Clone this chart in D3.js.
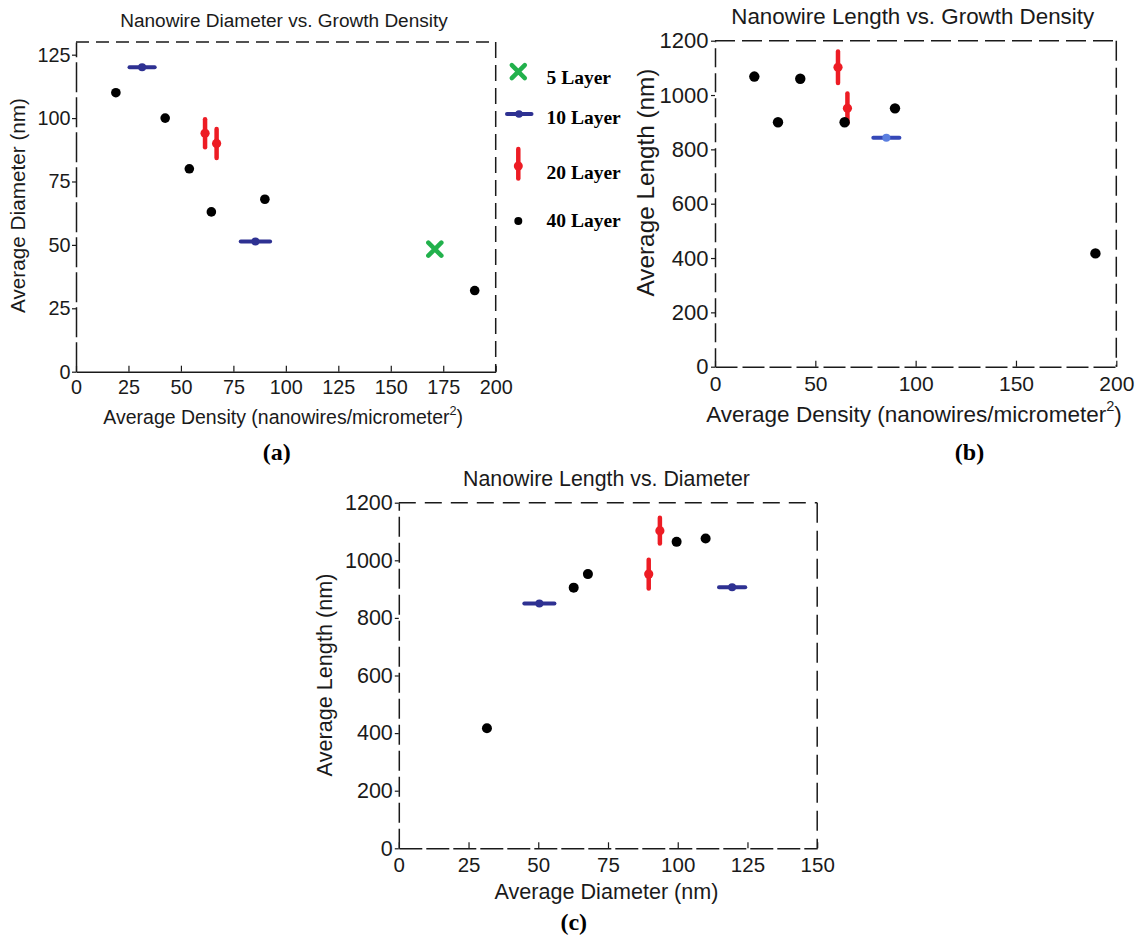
<!DOCTYPE html>
<html><head><meta charset="utf-8">
<script src="https://cdn.jsdelivr.net/npm/d3@7"></script>
<style>body{margin:0;background:#fff} svg{display:block}</style>
</head><body>
<svg id="chart" width="1144" height="937"></svg>
<script>
// ---------- DATA ----------
// Panel (a): Diameter vs Density
const densA_40 = [19, 42.5, 54, 64.5, 90, 190];
const diamA_40 = [110, 100, 80, 63, 68, 32];
const densA_20 = [61.5, 67];
const diamA_20 = [94, 90];
const errA_20  = [5.5, 5.7];
const densA_10 = [31.5, 85.5];
const diamA_10 = [120, 51.3];
const errA_10  = [6, 7];
const densA_5  = [171];
const diamA_5  = [48.3];

// Panel (b): Length vs Density
const densB_40 = [19.6, 31.4, 42.5, 64.6, 89.7, 189.6];
const lenB_40  = [1068, 900, 1060, 900, 951, 417];
const densB_20 = [61.3, 66];
const lenB_20  = [1102, 951];
const errB_20  = [58, 55];
const densB_10 = [85.4];
const lenB_10  = [843];
const errB_10  = [6.5];

// Panel (c): Length vs Diameter
const diamC_40 = [31.6, 62.7, 67.8, 99.6, 110];
const lenC_40  = [417, 905, 952, 1064, 1076];
const diamC_20 = [89.6, 93.6];
const lenC_20  = [952, 1103];
const errC_20  = [50, 45];
const diamC_10 = [50.4, 119.5];
const lenC_10  = [850, 906];
const errC_10  = [5.4, 4.7];

// Ticks
const ticksA_x = [0, 25, 50, 75, 100, 125, 150, 175, 200];
const ticksA_y = [0, 25, 50, 75, 100, 125];
const ticksB_x = [0, 50, 100, 150, 200];
const ticksB_y = [0, 200, 400, 600, 800, 1000, 1200];
const ticksC_x = [0, 25, 50, 75, 100, 125, 150];
const ticksC_y = [0, 200, 400, 600, 800, 1000, 1200];

const legendLabels = ["5 Layer", "10 Layer", "20 Layer", "40 Layer"];

// ---------- STYLE ----------
const SANS = "'Liberation Sans', Arial, sans-serif";
const SERIF = "'Liberation Serif', 'Times New Roman', serif";
const RED = "#ed1c24", BLUE = "#2e3192", GREEN = "#22b14c", INK = "#1a1a1a";
const fmt = d3.format("d");

const svg = d3.select("#chart");

function fitText(sel, w) {
  sel.attr("font-size", 20);
  const L = sel.node().getComputedTextLength();
  const f = 20 * w / L;
  sel.attr("font-size", f);
  return f;
}

function panel(o) {
  const x = d3.scaleLinear().domain(o.xd).range([o.x0, o.x1]);
  const y = d3.scaleLinear().domain(o.yd).range([o.y0, o.y1]);
  const g = svg.append("g");

  // frame: top & right dashed
  g.append("line").attr("x1", o.x0).attr("x2", o.x1).attr("y1", o.y1).attr("y2", o.y1)
    .attr("stroke", INK).attr("stroke-width", 1.5).attr("stroke-dasharray", o.dTop);
  g.append("line").attr("x1", o.x1).attr("x2", o.x1).attr("y1", o.y1).attr("y2", o.y0)
    .attr("stroke", INK).attr("stroke-width", 1.5).attr("stroke-dasharray", o.dRight);

  // bottom axis
  const ax = g.append("g").attr("transform", `translate(0,${o.y0})`)
    .call(d3.axisBottom(x).tickValues(o.xt).tickFormat(fmt).tickSize(-6).tickSizeOuter(0).tickPadding(o.padB));
  ax.attr("font-size", o.tickFs).attr("font-family", SANS);
  ax.select(".domain").attr("stroke", INK).attr("stroke-width", 1.5).attr("stroke-dasharray", o.dBottom);
  ax.selectAll(".tick line").attr("stroke", INK).attr("stroke-width", 1.2);
  ax.selectAll(".tick text").attr("fill", INK);

  // left axis
  const ay = g.append("g").attr("transform", `translate(${o.x0},0)`)
    .call(d3.axisLeft(y).tickValues(o.yt).tickFormat(fmt).tickSize(4).tickSizeOuter(0).tickPadding(o.padL));
  ay.attr("font-size", o.tickFsY || o.tickFs).attr("font-family", SANS);
  ay.select(".domain").attr("stroke", INK).attr("stroke-width", 1.5).attr("stroke-dasharray", o.dLeft);
  ay.selectAll(".tick line").attr("stroke", INK).attr("stroke-width", 1.2);
  ay.selectAll(".tick text").attr("fill", INK);

  // title
  const t = g.append("text").attr("x", o.title.cx).attr("text-anchor", "middle")
    .attr("font-family", SANS).attr("fill", INK).text(o.title.text);
  const ft = fitText(t, o.title.w);
  t.attr("y", o.title.cy + 0.36 * ft);

  // x label
  const xl = g.append("text").attr("x", o.xl.cx).attr("text-anchor", "middle")
    .attr("font-family", SANS).attr("fill", INK);
  xl.append("tspan").text(o.xl.text);
  if (o.xl.sup) {
    xl.append("tspan").attr("font-size", "0.65em").attr("dy", "-0.75em").text(o.xl.sup);
    xl.append("tspan").attr("dy", "0.49em").text(")");
  }
  const fx = fitText(xl, o.xl.w);
  xl.attr("y", o.xl.cy + 0.36 * fx);

  // y label
  const yl = g.append("text").attr("text-anchor", "middle").attr("font-family", SANS)
    .attr("fill", INK).text(o.yl.text);
  const fy = fitText(yl, o.yl.w);
  yl.attr("transform", `translate(${o.yl.cx},${o.yl.cy}) rotate(-90)`).attr("y", 0.36 * fy);

  // panel letter
  g.append("text").attr("x", o.letter.cx).attr("y", o.letter.cy + 8)
    .attr("text-anchor", "middle").attr("font-family", SERIF).attr("font-weight", "bold")
    .attr("font-size", 24).attr("fill", "#000").text(o.letter.text);

  // marks
  const s = o.series;
  // 10 layer: horizontal error bars
  if (s.l10) {
    const d = d3.zip(s.l10[0], s.l10[1], s.l10[2]);
    g.selectAll(null).data(d).enter().append("line")
      .attr("x1", v => x(v[0] - v[2])).attr("x2", v => x(v[0] + v[2]))
      .attr("y1", v => y(v[1])).attr("y2", v => y(v[1]))
      .attr("stroke", o.blue || BLUE).attr("stroke-width", 4).attr("stroke-linecap", "round");
    g.selectAll(null).data(d).enter().append("circle")
      .attr("cx", v => x(v[0])).attr("cy", v => y(v[1])).attr("r", 4)
      .attr("fill", o.blueDot || BLUE);
  }
  // 20 layer: vertical error bars
  if (s.l20) {
    const d = d3.zip(s.l20[0], s.l20[1], s.l20[2]);
    g.selectAll(null).data(d).enter().append("line")
      .attr("x1", v => x(v[0])).attr("x2", v => x(v[0]))
      .attr("y1", v => y(v[1] - v[2])).attr("y2", v => y(v[1] + v[2]))
      .attr("stroke", RED).attr("stroke-width", 4.5).attr("stroke-linecap", "round");
    g.selectAll(null).data(d).enter().append("circle")
      .attr("cx", v => x(v[0])).attr("cy", v => y(v[1])).attr("r", 4.6).attr("fill", RED);
  }
  // 40 layer: black dots
  if (s.l40) {
    g.selectAll(null).data(d3.zip(s.l40[0], s.l40[1])).enter().append("circle")
      .attr("cx", v => x(v[0])).attr("cy", v => y(v[1])).attr("r", o.dotR).attr("fill", "#000");
  }
  // 5 layer: green X
  if (s.l5) {
    g.selectAll(null).data(d3.zip(s.l5[0], s.l5[1])).enter().append("path")
      .attr("transform", v => `translate(${x(v[0])},${y(v[1])})`)
      .attr("d", "M-6.5,-6.5L6.5,6.5M6.5,-6.5L-6.5,6.5")
      .attr("stroke", GREEN).attr("stroke-width", 4.5).attr("stroke-linecap", "round");
  }
  return g;
}

// Panel (a)
panel({
  xd: [0, 200], yd: [0, 130], x0: 76, x1: 495.7, y0: 371.7, y1: 42,
  xt: ticksA_x, yt: ticksA_y, tickFs: 19.8, padB: 8, padL: 1.5,
  dTop: "13,7", dRight: "16,7", dBottom: null, dLeft: "30,5",
  title: {text: "Nanowire Diameter vs. Growth Density", cx: 284, cy: 20, w: 328},
  xl: {text: "Average Density (nanowires/micrometer", sup: "2", cx: 283.2, cy: 417, w: 360},
  yl: {text: "Average Diameter (nm)", cx: 18, cy: 205.5, w: 215},
  letter: {text: "(a)", cx: 276.7, cy: 451.7},
  dotR: 4.8,
  series: {
    l10: [densA_10, diamA_10, errA_10],
    l20: [densA_20, diamA_20, errA_20],
    l40: [densA_40, diamA_40],
    l5: [densA_5, diamA_5]
  }
});

// Panel (b)
panel({
  xd: [0, 200], yd: [0, 1200], x0: 715, x1: 1116.3, y0: 366.7, y1: 40.7,
  xt: ticksB_x, yt: ticksB_y, tickFs: 21, tickFsY: 22, padB: 9, padL: 2.5,
  dTop: "20,7", dRight: "20,7", dBottom: "22,5", dLeft: "19,6",
  title: {text: "Nanowire Length vs. Growth Density", cx: 912.7, cy: 15.6, w: 363},
  xl: {text: "Average Density (nanowires/micrometer", sup: "2", cx: 914, cy: 414, w: 416},
  yl: {text: "Average Length (nm)", cx: 645, cy: 182.5, w: 228},
  letter: {text: "(b)", cx: 969.5, cy: 451.7},
  dotR: 5.2, blue: "#3548b8", blueDot: "#5b7fe0",
  series: {
    l10: [densB_10, lenB_10, errB_10],
    l20: [densB_20, lenB_20, errB_20],
    l40: [densB_40, lenB_40]
  }
});

// Panel (c)
panel({
  xd: [0, 150], yd: [0, 1200], x0: 398.8, x1: 817.2, y0: 848.3, y1: 502.7,
  xt: ticksC_x, yt: ticksC_y, tickFs: 20.5, tickFsY: 21.5, padB: 9, padL: 2,
  dTop: "17,9", dRight: "20,8", dBottom: "23,4", dLeft: "20,6",
  title: {text: "Nanowire Length vs. Diameter", cx: 606.5, cy: 478.3, w: 287},
  xl: {text: "Average Diameter (nm)", cx: 606.5, cy: 891.7, w: 224},
  yl: {text: "Average Length (nm)", cx: 324, cy: 675, w: 203},
  letter: {text: "(c)", cx: 573.8, cy: 921.7},
  dotR: 5,
  series: {
    l10: [diamC_10, lenC_10, errC_10],
    l20: [diamC_20, lenC_20, errC_20],
    l40: [diamC_40, lenC_40]
  }
});

// Legend (belongs to panel a)
const leg = svg.append("g");
const legY = [77, 117, 172, 220];
leg.selectAll(null).data(legendLabels).enter().append("text")
  .attr("x", 546.5).attr("y", (d, i) => legY[i] + 6.5)
  .attr("font-family", SERIF).attr("font-weight", "bold").attr("font-size", 19.5)
  .attr("fill", "#000").text(d => d);
// symbols
leg.append("path").attr("transform", "translate(518.3,71.7)")
  .attr("d", "M-6.5,-6.5L6.5,6.5M6.5,-6.5L-6.5,6.5")
  .attr("stroke", GREEN).attr("stroke-width", 4.5).attr("stroke-linecap", "round");
leg.append("line").attr("x1", 507).attr("x2", 531.5).attr("y1", 114).attr("y2", 114)
  .attr("stroke", BLUE).attr("stroke-width", 4).attr("stroke-linecap", "round");
leg.append("circle").attr("cx", 519).attr("cy", 114).attr("r", 3.8).attr("fill", BLUE);
leg.append("line").attr("x1", 518.3).attr("x2", 518.3).attr("y1", 149).attr("y2", 178.5)
  .attr("stroke", RED).attr("stroke-width", 4.5).attr("stroke-linecap", "round");
leg.append("circle").attr("cx", 518.3).attr("cy", 166).attr("r", 4.5).attr("fill", RED);
leg.append("circle").attr("cx", 518.3).attr("cy", 221).attr("r", 4).attr("fill", "#000");
</script>
</body></html>
